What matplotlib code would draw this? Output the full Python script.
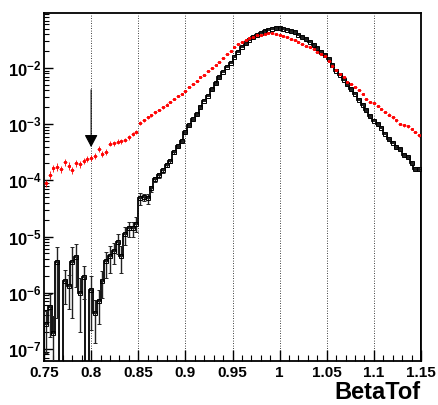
import numpy as np
import matplotlib
matplotlib.use("Agg")
import matplotlib.pyplot as plt
from matplotlib.ticker import FixedLocator, FuncFormatter, NullFormatter

plt.rcParams['font.family'] = ['Liberation Sans', 'DejaVu Sans']
plt.rcParams['mathtext.fontset'] = 'custom'
plt.rcParams['mathtext.rm'] = 'Liberation Sans'
plt.rcParams['mathtext.bf'] = 'Liberation Sans:bold'

# 100 bins between 0.75 and 1.15
X_MIN, X_MAX, N_BINS = 0.75, 1.15, 100

# black histogram (bin contents, 0 = empty bin)
black_vals = [
    2.8e-7, 5.5e-7, 1.9e-7, 3.5e-6, 0, 1.6e-6, 1.3e-6, 3.5e-6, 4.3e-6, 1.0e-6,
    1.9e-6, 0, 1.1e-6, 4.3e-7, 7.0e-7, 1.6e-6, 3.6e-6, 4.5e-6, 5.5e-6, 8.0e-6,
    4.5e-6, 1.1e-5, 1.4e-5, 1.4e-5, 1.7e-5, 4.8e-5, 5.0e-5, 4.8e-5, 7.2e-5, 1.05e-4,
    1.23e-4, 1.5e-4, 1.86e-4, 2.2e-4, 3.2e-4, 4.1e-4, 5.1e-4, 7.2e-4, 9.5e-4, 1.23e-3,
    1.5e-3, 2.0e-3, 2.6e-3, 3.2e-3, 4.2e-3, 5.4e-3, 6.9e-3, 8.5e-3, 1.05e-2, 1.23e-2,
    1.58e-2, 1.95e-2, 2.4e-2, 2.75e-2, 3.16e-2, 3.55e-2, 3.9e-2, 4.2e-2, 4.5e-2, 4.8e-2,
    5.0e-2, 5.1e-2, 5.1e-2, 5.0e-2, 4.8e-2, 4.5e-2, 4.3e-2, 3.9e-2, 3.55e-2, 3.25e-2,
    2.95e-2, 2.55e-2, 2.25e-2, 1.95e-2, 1.7e-2, 1.45e-2, 1.15e-2, 8.9e-3, 7.6e-3, 6.2e-3,
    5.1e-3, 4.2e-3, 3.5e-3, 2.7e-3, 2.2e-3, 1.78e-3, 1.38e-3, 1.15e-3, 1.0e-3, 8.7e-4,
    6.8e-4, 5.5e-4, 4.7e-4, 3.9e-4, 3.55e-4, 2.8e-4, 2.6e-4, 2.0e-4, 1.62e-4, 1.62e-4,
]
# relative errors of the black histogram
black_rel_err = [
    0.7, 0.7, 1.0, 0.9, 0, 0.6, 0.6, 0.9, 0.7, 0.8,
    0.6, 0, 0.8, 0.7, 0.6, 0.5, 0.5, 0.5, 0.4, 0.4,
    0.5, 0.35, 0.3, 0.3, 0.3, 0.25, 0.15, 0.2, 0.12, 0.1,
    0.1, 0.08, 0.08, 0.07, 0.06, 0.05, 0.05, 0.04, 0.04, 0.03,
    0.03, 0.02, 0.02, 0.02, 0.02, 0.02, 0.02, 0.02, 0.02, 0.02,
    0.02, 0.02, 0.02, 0.02, 0.02, 0.02, 0.02, 0.02, 0.02, 0.02,
    0.02, 0.02, 0.02, 0.02, 0.02, 0.02, 0.02, 0.02, 0.02, 0.02,
    0.02, 0.02, 0.02, 0.02, 0.02, 0.02, 0.02, 0.02, 0.02, 0.02,
    0.02, 0.02, 0.02, 0.02, 0.02, 0.02, 0.02, 0.02, 0.02, 0.02,
    0.03, 0.03, 0.03, 0.03, 0.03, 0.03, 0.03, 0.04, 0.04, 0.04,
]

# red points
red_vals = [
    8.9e-5, 1.26e-4, 1.66e-4, 1.74e-4, 1.58e-4, 2.1e-4, 1.82e-4, 1.5e-4, 2.0e-4, 1.95e-4,
    2.2e-4, 2.4e-4, 2.5e-4, 2.7e-4, 3.6e-4, 2.95e-4, 3.2e-4, 4.5e-4, 4.6e-4, 4.9e-4,
    5.0e-4, 5.25e-4, 5.9e-4, 6.8e-4, 7.2e-4, 1.05e-3, 1.17e-3, 1.32e-3, 1.45e-3, 1.62e-3,
    1.78e-3, 2.0e-3, 2.24e-3, 2.5e-3, 2.8e-3, 3.16e-3, 3.47e-3, 3.9e-3, 4.5e-3, 5.1e-3,
    5.9e-3, 6.8e-3, 7.6e-3, 8.7e-3, 1.0e-2, 1.12e-2, 1.26e-2, 1.51e-2, 1.74e-2, 2.0e-2,
    2.34e-2, 2.63e-2, 2.9e-2, 3.16e-2, 3.4e-2, 3.55e-2, 3.8e-2, 3.9e-2, 4.07e-2, 4.17e-2,
    4.17e-2, 4.07e-2, 3.9e-2, 3.7e-2, 3.55e-2, 3.3e-2, 3.16e-2, 2.95e-2, 2.7e-2, 2.5e-2,
    2.34e-2, 2.14e-2, 1.95e-2, 1.78e-2, 1.62e-2, 1.32e-2, 1.10e-2, 9.1e-3, 7.9e-3, 6.8e-3,
    5.75e-3, 5.1e-3, 4.5e-3, 4.0e-3, 3.4e-3, 2.8e-3, 2.5e-3, 2.35e-3, 2.1e-3, 1.86e-3,
    1.66e-3, 1.48e-3, 1.32e-3, 1.17e-3, 1.0e-3, 9.5e-4, 9.1e-4, 8.3e-4, 7.2e-4, 6.3e-4,
]
red_rel_err = [
    0.15, 0.15, 0.15, 0.15, 0.15, 0.15, 0.15, 0.15, 0.15, 0.15,
    0.12, 0.12, 0.12, 0.12, 0.12, 0.12, 0.12, 0.1, 0.1, 0.1,
    0.1, 0.1, 0.1, 0.08, 0.08, 0.07, 0.07, 0.06, 0.06, 0.06,
    0.05, 0.05, 0.05, 0.05, 0.04, 0.04, 0.04, 0.04, 0.03, 0.03,
    0.03, 0.03, 0.03, 0.03, 0.03, 0.03, 0.03, 0.03, 0.03, 0.03,
    0.03, 0.03, 0.03, 0.03, 0.03, 0.03, 0.03, 0.03, 0.03, 0.03,
    0.03, 0.03, 0.03, 0.03, 0.03, 0.03, 0.03, 0.03, 0.03, 0.03,
    0.03, 0.03, 0.03, 0.03, 0.03, 0.03, 0.03, 0.03, 0.03, 0.03,
    0.04, 0.04, 0.04, 0.04, 0.04, 0.04, 0.04, 0.04, 0.04, 0.04,
    0.05, 0.05, 0.05, 0.05, 0.05, 0.05, 0.05, 0.05, 0.05, 0.05,
]

x_ticks = [0.75, 0.8, 0.85, 0.9, 0.95, 1.0, 1.05, 1.1, 1.15]
y_decades = [-7, -6, -5, -4, -3, -2]
Y_MIN, Y_MAX = 6.1e-8, 0.0953

# arrow marking the cut at 0.8
ARROW_X = 0.8
ARROW_TAIL, ARROW_TIP = 4.1e-3, 3.9e-4


def main():
    edges = np.linspace(X_MIN, X_MAX, N_BINS + 1)
    centers = 0.5 * (edges[1:] + edges[:-1])
    half_w = 0.5 * (edges[1] - edges[0])

    bv = np.array(black_vals, dtype=float)
    berr = bv * np.array(black_rel_err)
    rv = np.array(red_vals, dtype=float)
    rerr = rv * np.array(red_rel_err)

    fig = plt.figure(figsize=(4.38, 4.05), dpi=100)
    ax = fig.add_axes([44 / 438, 1 - 361 / 405, 377 / 438, 348 / 405])

    ax.set_yscale('log')
    ax.set_xlim(X_MIN, X_MAX)
    ax.set_ylim(Y_MIN, Y_MAX)

    # vertical dotted grid
    for xt in x_ticks[1:-1]:
        ax.axvline(xt, color='black', linestyle=(0, (1, 2)), lw=0.6, zorder=0)

    # black histogram: step line, empty bins drop to the bottom
    step_vals = np.where(bv > 0, bv, 1e-12)
    ax.stairs(step_vals, edges, color='black', lw=1.3, zorder=3)
    bmask = bv > 0
    lower = np.minimum(berr, bv - 1e-12)
    ax.errorbar(centers[bmask], bv[bmask], yerr=[lower[bmask], berr[bmask]],
                fmt='s', ms=2.2, mfc='none', mec='black', mew=0.7,
                ecolor='#222222', elinewidth=1.0, capsize=1.6, capthick=0.9, zorder=3)

    # red points
    ax.errorbar(centers, rv, xerr=half_w, yerr=rerr, fmt='s', ms=2.0,
                mfc='none', mec='red', mew=0.7, ecolor='red', elinewidth=0.6,
                capsize=0, zorder=4)

    # arrow
    ax.annotate('', xy=(ARROW_X, ARROW_TIP), xytext=(ARROW_X, ARROW_TAIL),
                arrowprops=dict(arrowstyle='-|>,head_length=0.75,head_width=0.4',
                                color='black', lw=0.8, mutation_scale=10,
                                shrinkA=0, shrinkB=0), zorder=5)

    # ticks
    ax.xaxis.set_major_locator(FixedLocator(x_ticks))
    ax.xaxis.set_minor_locator(FixedLocator(np.arange(0.75, 1.1501, 0.01)))
    ax.xaxis.set_major_formatter(FuncFormatter(lambda v, p: '%g' % round(v, 2)))
    ax.xaxis.set_minor_formatter(NullFormatter())
    ax.yaxis.set_major_locator(FixedLocator([10.0 ** d for d in y_decades]))
    minors = [m * 10.0 ** d for d in [-8] + y_decades for m in range(2, 10)]
    ax.yaxis.set_minor_locator(FixedLocator(minors))
    ax.yaxis.set_major_formatter(FuncFormatter(
        lambda v, p: r'$\mathbf{10^{%d}}$' % int(round(np.log10(v)))))
    ax.yaxis.set_minor_formatter(NullFormatter())

    ax.tick_params(axis='x', which='major', direction='in', length=8, width=1.0,
                   pad=3.5, labelsize=11, top=False)
    ax.tick_params(axis='x', which='minor', direction='in', length=4.3, width=0.8, top=False)
    ax.tick_params(axis='y', which='major', direction='in', length=6.5, width=1.0,
                   pad=1.5, labelsize=12, right=False)
    ax.tick_params(axis='y', which='minor', direction='in', length=3.6, width=0.8, right=False)
    for lab in ax.get_xticklabels():
        lab.set_fontweight('bold')

    for side in ax.spines.values():
        side.set_linewidth(1.3)

    fig.text(421 / 438, 1 - 399 / 405, 'BetaTof', ha='right', va='baseline',
             fontsize=17, fontweight='bold')

    fig.savefig('out.png', dpi=100)


if __name__ == "__main__":
    main()
